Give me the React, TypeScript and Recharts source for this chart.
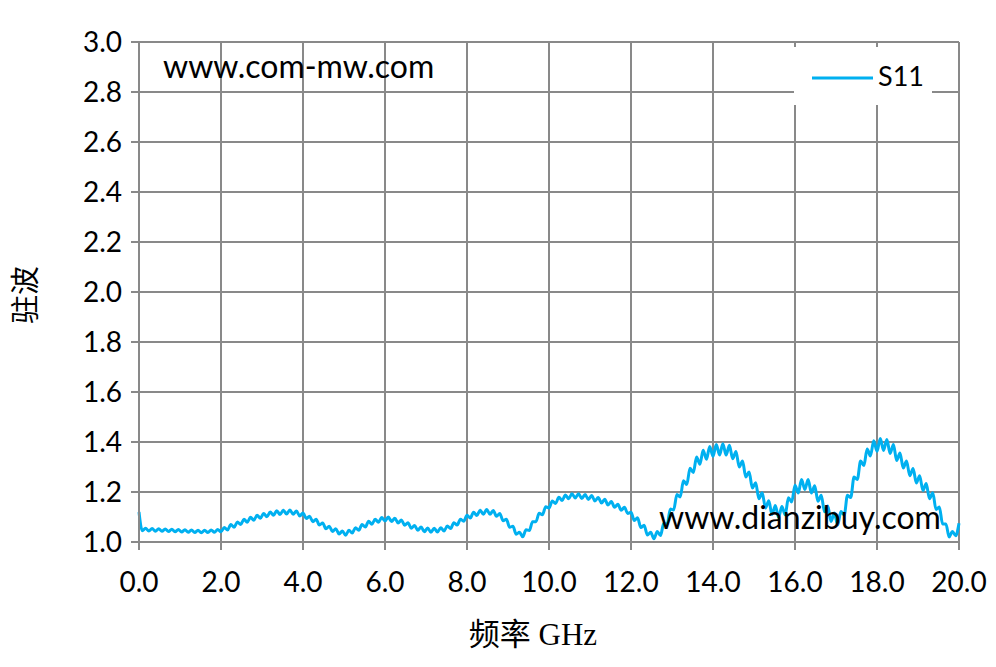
import React from 'react';
import { LineChart, Line, XAxis, YAxis, CartesianGrid, Legend } from 'recharts';

// Frequency sweep step (GHz) between consecutive measured points, 0 .. 20 GHz
const STEP_GHZ = 0.08;

// S11 VSWR values, one per sweep point
const vswr: number[] = [
  1.12, 1.045, 1.055, 1.044, 1.054, 1.043, 1.053, 1.043, 1.052, 1.042, 1.051, 1.041, 1.05, 1.040, 1.049, 1.039, 1.048, 1.038, 1.047, 1.037, 1.047, 1.038, 1.048, 1.039, 1.050, 1.041,
  1.058, 1.048, 1.070, 1.059, 1.080, 1.070, 1.091, 1.079, 1.099, 1.087, 1.107, 1.095, 1.114, 1.101, 1.120, 1.107, 1.125, 1.110, 1.127, 1.112, 1.128, 1.111, 1.124, 1.104, 1.116,
  1.094, 1.103, 1.081, 1.091, 1.068, 1.076, 1.053, 1.063, 1.042, 1.053, 1.032, 1.044, 1.027, 1.047, 1.036, 1.057, 1.047, 1.070, 1.060, 1.083, 1.071, 1.091, 1.079, 1.098, 1.084,
  1.100, 1.082, 1.095, 1.076, 1.088, 1.067, 1.077, 1.055, 1.066, 1.047, 1.060, 1.041, 1.056, 1.039, 1.055, 1.040, 1.057, 1.044, 1.064, 1.054, 1.077, 1.068, 1.091, 1.083, 1.107,
  1.096, 1.119, 1.106, 1.127, 1.111, 1.130, 1.111, 1.126, 1.103, 1.114, 1.085, 1.091, 1.059, 1.063, 1.031, 1.039, 1.021, 1.049, 1.046, 1.081, 1.081, 1.115, 1.109, 1.141, 1.136,
  1.164, 1.154, 1.179, 1.166, 1.188, 1.173, 1.193, 1.176, 1.193, 1.174, 1.190, 1.170, 1.186, 1.164, 1.178, 1.156, 1.171, 1.148, 1.162, 1.139, 1.151, 1.127, 1.139, 1.114, 1.119,
  1.086, 1.097, 1.058, 1.067, 1.028, 1.039, 1.013, 1.042, 1.026, 1.075, 1.070, 1.132, 1.128, 1.190, 1.180, 1.245, 1.230, 1.295, 1.278, 1.340, 1.311, 1.367, 1.331, 1.382, 1.343,
  1.390, 1.348, 1.393, 1.348, 1.387, 1.333, 1.362, 1.300, 1.324, 1.260, 1.280, 1.216, 1.237, 1.173, 1.197, 1.136, 1.165, 1.110, 1.146, 1.098, 1.142, 1.108, 1.177, 1.160, 1.227,
  1.196, 1.250, 1.210, 1.250, 1.196, 1.225, 1.163, 1.187, 1.121, 1.144, 1.082, 1.116, 1.068, 1.122, 1.108, 1.187, 1.178, 1.260, 1.250, 1.324, 1.306, 1.372, 1.344, 1.405, 1.363,
  1.414, 1.366, 1.410, 1.354, 1.390, 1.326, 1.356, 1.296, 1.324, 1.265, 1.294, 1.236, 1.265, 1.206, 1.234, 1.173, 1.197, 1.130, 1.140, 1.072, 1.072, 1.020, 1.042, 1.025, 1.075,
];

const freqTicks = [0, 2, 4, 6, 8, 10, 12, 14, 16, 18, 20];
const vswrTicks = [1.0, 1.2, 1.4, 1.6, 1.8, 2.0, 2.2, 2.4, 2.6, 2.8, 3.0];
const seriesName = 'S11';
const xTitle = '频率 GHz';
const yTitle = '驻波';
const watermarkTop = 'www.com-mw.com';
const watermarkBottom = 'www.dianzibuy.com';

const data = vswr.map((v, i) => ({ f: Math.round(i * STEP_GHZ * 100) / 100, s11: v }));

const GRID = '#898989';
const LINE = '#00b0f0';
const FONT = 'Lato, "Open Sans", sans-serif';
const TITLE_FONT = '"Liberation Serif", "Noto Sans CJK SC", serif';

const LegendBox = () => (
  <div style={{ width: 138, height: 58, background: '#fff', position: 'relative' }}>
    <svg width={138} height={58} style={{ position: 'absolute', left: 0, top: 0 }}>
      <line x1={18} y1={31} x2={79} y2={31} stroke={LINE} strokeWidth={3} />
      <text x={84} y={39} fontSize={27} fontFamily={FONT} fill="#000">{seriesName}</text>
    </svg>
  </div>
);

export default function App() {
  return (
    <div style={{ position: 'relative', width: 980, height: 650, background: '#fff' }}>
      <LineChart width={980} height={650} data={data} margin={{ top: 34, right: 29, bottom: 66, left: 0 }}>
        <CartesianGrid stroke={GRID} strokeWidth={2} />
        <XAxis
          dataKey="f"
          type="number"
          domain={[0, 20]}
          ticks={freqTicks}
          interval={0}
          tickFormatter={(v: number) => v.toFixed(1)}
          height={50}
          tickSize={8}
          tickMargin={22}
          axisLine={{ stroke: GRID, strokeWidth: 2 }}
          tickLine={{ stroke: GRID, strokeWidth: 2 }}
          tick={{ fill: '#000', fontSize: 28, fontFamily: FONT }}
        />
        <YAxis
          type="number"
          domain={[1, 3]}
          ticks={vswrTicks}
          interval={0}
          allowDataOverflow
          tickFormatter={(v: number) => v.toFixed(1)}
          width={131}
          tickSize={8}
          tickMargin={9}
          axisLine={{ stroke: GRID, strokeWidth: 2 }}
          tickLine={{ stroke: GRID, strokeWidth: 2 }}
          tick={{ fill: '#000', fontSize: 28, fontFamily: FONT }}
        />
        <Legend
          layout="vertical"
          align="center"
          verticalAlign="middle"
          wrapperStyle={{ position: 'absolute', left: 786, top: 39, width: 138, height: 58 }}
          content={() => <LegendBox />}
        />
        <Line
          type="monotone"
          dataKey="s11"
          name={seriesName}
          stroke={LINE}
          strokeWidth={3}
          dot={false}
          activeDot={false}
          isAnimationActive={false}
        />
      </LineChart>
      <svg width={980} height={650} style={{ position: 'absolute', left: 0, top: 0, pointerEvents: 'none' }}>
        <text x={155} y={70} fontSize={32} fontFamily={FONT} fill="#000">{watermarkTop}</text>
        <text x={651} y={521} fontSize={32} fontFamily={FONT} fill="#000">{watermarkBottom}</text>
        <text x={525} y={637} fontSize={31} textAnchor="middle" fontFamily={TITLE_FONT} fill="#000">{xTitle}</text>
        <text
          x={18}
          y={287}
          fontSize={29}
          textAnchor="middle"
          dominantBaseline="central"
          transform="rotate(-90 18 287)"
          fontFamily={TITLE_FONT}
          fill="#000"
        >
          {yTitle}
        </text>
      </svg>
    </div>
  );
}
